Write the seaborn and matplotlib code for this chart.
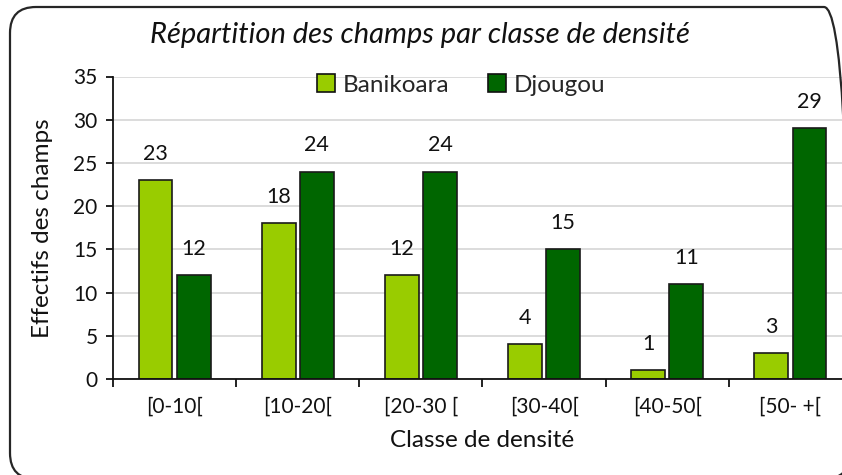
import matplotlib
matplotlib.use("Agg")
import matplotlib.pyplot as plt
from matplotlib.patches import FancyBboxPatch
from matplotlib.ticker import FixedLocator
import seaborn as sns
import pandas as pd

# Données : nombre de champs par classe de densité
classes = ["[0-10[", "[10-20[", "[20-30 [", "[30-40[", "[40-50[", "[50- +["]
banikoara = [23, 18, 12, 4, 1, 3]
djougou = [12, 24, 24, 15, 11, 29]
communes = ["Banikoara", "Djougou"]
couleurs = ["#99CC00", "#006600"]

df = pd.DataFrame({
    "classe": classes * 2,
    "commune": [communes[0]] * len(classes) + [communes[1]] * len(classes),
    "effectif": banikoara + djougou,
})

sns.set_theme(style="white")
plt.rcParams["font.family"] = ["Lato", "DejaVu Sans"]

W, H = 842, 475
fig = plt.figure(figsize=(W / 100, H / 100), dpi=100)
ax = fig.add_axes([113 / W, (H - 379) / H, 739 / W, 302.5 / H])

sns.barplot(data=df, x="classe", y="effectif", hue="commune", order=classes,
            hue_order=communes, palette=couleurs, width=0.62, gap=0.11,
            edgecolor="#1a1a1a", linewidth=1.2, saturation=1, ax=ax,
            errorbar=None)

# Étiquettes de valeur au-dessus de chaque barre
for cont in ax.containers:
    for bar in cont:
        h = bar.get_height()
        ax.annotate(f"{h:g}", (bar.get_x() + bar.get_width() / 2, h),
                    xytext=(0, 19), textcoords="offset points",
                    ha="center", va="center", fontsize=15.5, color="#111111")

ax.set_ylim(0, 35)
ax.set_xlim(-0.5, 5.5)
ax.set_yticks(range(0, 36, 5))
ax.yaxis.grid(True, color="#D9D9D9", linewidth=1.3)
ax.set_axisbelow(True)

for side in ["top", "right"]:
    ax.spines[side].set_visible(False)
for side in ["left", "bottom"]:
    ax.spines[side].set_color("#111111")
    ax.spines[side].set_linewidth(1.3)

ax.tick_params(axis="y", which="major", left=True, length=5, width=1.3,
               color="#111111", labelsize=15, pad=6, labelcolor="#111111")
ax.tick_params(axis="x", which="major", bottom=False, length=0,
               labelsize=15, pad=13, labelcolor="#111111")
ax.xaxis.set_minor_locator(FixedLocator([i - 0.5 for i in range(len(classes) + 1)]))
ax.tick_params(axis="x", which="minor", bottom=True, length=6, width=1.3,
               color="#111111")

ax.set_xlabel("Classe de densité", fontsize=17.5, labelpad=9, color="#111111")
ax.set_ylabel("Effectifs des champs", fontsize=17.5, labelpad=15, color="#111111")

leg = ax.legend(loc="center", bbox_to_anchor=(461 / W, (H - 85) / H),
                bbox_transform=fig.transFigure, ncol=2, frameon=False,
                fontsize=17.5, handlelength=0.75, handleheight=0.75,
                handletextpad=0.3, columnspacing=1.6, borderpad=0)
for hnd in leg.legend_handles:
    hnd.set_edgecolor("#111111")
    hnd.set_linewidth(1.2)

fig.text(420 / W, (H - 35) / H, "Répartition des champs par classe de densité",
         ha="center", va="center", fontsize=21, style="italic", color="#111111")

# Cadre arrondi autour du graphique
cadre = FancyBboxPatch((10, -4), 840, 472, boxstyle="round,pad=0,rounding_size=26",
                       transform=None, facecolor="none", edgecolor="#262626",
                       linewidth=1.6, zorder=10)
fig.add_artist(cadre)

fig.savefig("out.png", dpi=100)
